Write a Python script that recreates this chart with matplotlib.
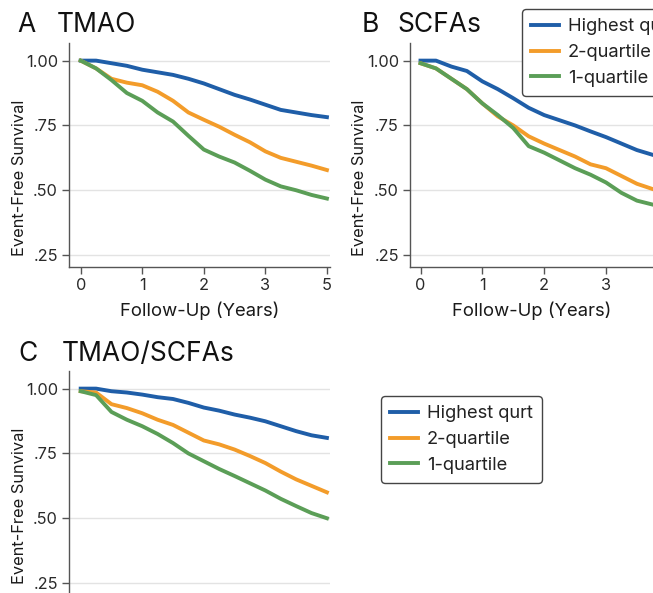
import matplotlib.pyplot as plt

plt.rcParams["font.family"] = ["Inter", "DejaVu Sans"]

# follow-up times (years)
t_a = [0, 0.25, 0.5, 0.75, 1.0, 1.25, 1.5, 1.75, 2.0, 2.25, 2.5, 2.75, 3.0, 3.25, 3.5, 3.75, 4.0]
t_b = [0, 0.25, 0.5, 0.75, 1.0, 1.25, 1.5, 1.75, 2.0, 2.25, 2.5, 2.75, 3.0, 3.25, 3.5, 3.75]
t_c = t_a

# A: TMAO
a_high = [1.00, 1.00, 0.99, 0.98, 0.965, 0.955, 0.945, 0.93, 0.912, 0.89, 0.868, 0.85, 0.83, 0.81, 0.80, 0.79, 0.782]
a_q2 = [1.00, 0.97, 0.93, 0.915, 0.905, 0.88, 0.845, 0.80, 0.772, 0.745, 0.714, 0.685, 0.65, 0.625, 0.61, 0.595, 0.578]
a_q1 = [1.00, 0.97, 0.925, 0.875, 0.845, 0.80, 0.765, 0.71, 0.657, 0.63, 0.607, 0.575, 0.541, 0.515, 0.50, 0.482, 0.468]

# B: SCFAs
b_high = [1.00, 1.00, 0.977, 0.96, 0.92, 0.89, 0.855, 0.818, 0.79, 0.77, 0.75, 0.727, 0.705, 0.68, 0.655, 0.637]
b_q2 = [0.99, 0.97, 0.93, 0.89, 0.835, 0.785, 0.75, 0.708, 0.68, 0.655, 0.63, 0.60, 0.585, 0.555, 0.525, 0.505]
b_q1 = [0.99, 0.97, 0.93, 0.89, 0.835, 0.79, 0.74, 0.67, 0.645, 0.615, 0.585, 0.56, 0.53, 0.49, 0.46, 0.445]

# C: TMAO/SCFAs
c_high = [1.00, 1.00, 0.99, 0.985, 0.977, 0.967, 0.96, 0.945, 0.927, 0.915, 0.90, 0.888, 0.874, 0.855, 0.836, 0.82, 0.81]
c_q2 = [0.99, 0.985, 0.94, 0.925, 0.905, 0.88, 0.86, 0.83, 0.80, 0.785, 0.765, 0.74, 0.713, 0.68, 0.65, 0.625, 0.60]
c_q1 = [0.99, 0.975, 0.91, 0.88, 0.855, 0.825, 0.79, 0.75, 0.72, 0.69, 0.663, 0.635, 0.607, 0.575, 0.547, 0.52, 0.50]

group_names = ["Highest qurt", "2-quartile", "1-quartile"]
colors = ["#1f5ea8", "#f39c2a", "#5b9e57"]

y_ticks = [0.25, 0.50, 0.75, 1.00]
y_ticklabels = [".25", ".50", ".75", "1.00"]
x_ticks = [0, 1, 2, 3, 4]
x_ticklabels = ["0", "1", "2", "3", "5"]

W, H = 653, 593
fig = plt.figure(figsize=(W / 100, H / 100), dpi=100)


def px_axes(left, top, right, bottom):
    return fig.add_axes([left / W, 1 - bottom / H, (right - left) / W, (bottom - top) / H])


def style(ax, xlim, show_x=True):
    ax.set_yticks(y_ticks)
    ax.set_yticklabels(y_ticklabels)
    ax.set_xticks(x_ticks)
    ax.set_xticklabels(x_ticklabels)
    ax.set_xlim(*xlim)
    ax.set_ylim(0.204, 1.068)
    for s in ["top", "right"]:
        ax.spines[s].set_visible(False)
    for s in ["left", "bottom"]:
        ax.spines[s].set_color("#555555")
        ax.spines[s].set_linewidth(1.0)
    ax.tick_params(colors="#555555", labelcolor="#2a2a2a", labelsize=11.8, length=5, width=1, pad=3)
    ax.grid(axis="y", color="#e3e3e3", linewidth=1)
    ax.set_axisbelow(True)
    ax.set_ylabel("Event-Free Sunvival", fontsize=11.8, color="#1a1a1a")
    if show_x:
        ax.set_xlabel("Follow-Up (Years)", fontsize=13.3, color="#1a1a1a", labelpad=6)
    else:
        ax.tick_params(axis="x", labelbottom=False)


def draw(ax, t, series):
    lines = []
    for vals, c, name in zip(series, colors, group_names):
        (ln,) = ax.plot(t, vals, color=c, linewidth=2.8, label=name)
        lines.append(ln)
    return lines


ax_a = px_axes(69, 43, 330, 267)
draw(ax_a, t_a, [a_high, a_q2, a_q1])
style(ax_a, (-0.19, 4.05))
ax_a.yaxis.set_label_coords(-0.16, 0.40)

ax_b = px_axes(410, 43, 653, 267)
lines = draw(ax_b, t_b, [b_high, b_q2, b_q1])
style(ax_b, (-0.17, 3.76))
ax_b.yaxis.set_label_coords(-0.175, 0.40)

ax_c = px_axes(69, 371, 330, 595)
draw(ax_c, t_c, [c_high, c_q2, c_q1])
style(ax_c, (-0.19, 4.05), show_x=False)
ax_c.yaxis.set_label_coords(-0.16, 0.40)

title_kw = dict(fontsize=19, color="#111111", va="baseline")
fig.text(17 / W, 1 - 32 / H, "A", **title_kw)
fig.text(57 / W, 1 - 32 / H, "TMAO", **title_kw)
fig.text(362 / W, 1 - 32 / H, "B", **title_kw)
fig.text(397 / W, 1 - 32 / H, "SCFAs", **title_kw)
fig.text(18 / W, 1 - 361 / H, "C", **title_kw)
fig.text(62 / W, 1 - 361 / H, "TMAO/SCFAs", **title_kw)

leg_kw = dict(loc="upper left", fontsize=13.2, frameon=True, fancybox=True, edgecolor="#444444",
              framealpha=1, handlelength=1.5, handletextpad=0.5, labelspacing=0.48, borderpad=0.5,
              borderaxespad=0)
leg_b = fig.legend(lines, group_names, bbox_to_anchor=(522 / W, 1 - 9 / H), **leg_kw)
leg_c = fig.legend(lines, group_names, bbox_to_anchor=(381 / W, 1 - 396 / H), **leg_kw)
for leg in (leg_b, leg_c):
    leg.get_frame().set_linewidth(1.0)
    for txt in leg.get_texts():
        txt.set_color("#222222")

fig.savefig("out.png", dpi=100)
